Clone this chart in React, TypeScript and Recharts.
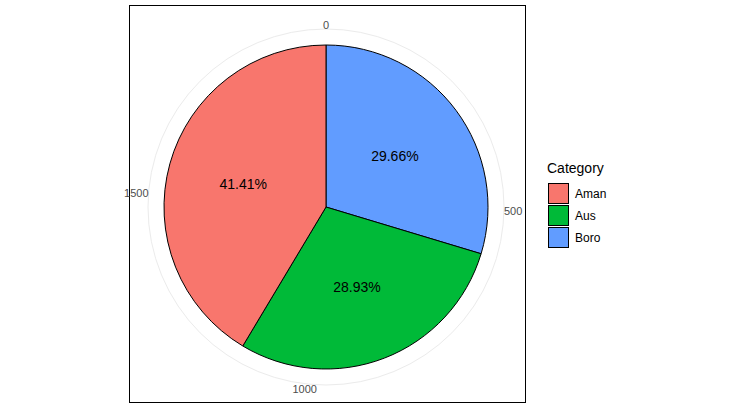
import React from "react";
import { PieChart, Pie, Cell, PolarAngleAxis, PolarGrid, PolarRadiusAxis } from "recharts";

const categories = ["Boro", "Aus", "Aman"];
const values = [583.7, 569.3, 815.0];
const colors = ["#619CFF", "#00BA38", "#F8766D"];
const angleTicks = [0, 500, 1000, 1500];
const legendOrder = ["Aman", "Aus", "Boro"];
const legendColors = ["#F8766D", "#00BA38", "#619CFF"];

const total = values.reduce((a, b) => a + b, 0);
const data = categories.map((c, i) => ({ name: c, value: values[i] }));

const RAD = Math.PI / 180;
const renderLabel = (p: any) => {
  const mid = p.midAngle;
  const r = p.outerRadius * 0.53;
  const x = p.cx + r * Math.cos(-mid * RAD);
  const y = p.cy + r * Math.sin(-mid * RAD);
  return (
    <text x={x} y={y} textAnchor="middle" dominantBaseline="central" fontSize={14} fill="#000">
      {((p.value / total) * 100).toFixed(2)}%
    </text>
  );
};

export default function App() {
  return (
    <div style={{ position: "absolute", left: 0, top: 0, width: 737, height: 419, background: "#fff", fontFamily: "Liberation Sans, Arial, sans-serif" }}>
      <div style={{ position: "absolute", left: 129, top: 5, width: 395, height: 396, border: "1.5px solid #000" }} />
      <PieChart width={737} height={419} margin={{ top: 0, right: 0, bottom: 0, left: 0 }} cx={326} cy={207} startAngle={90} endAngle={-270} outerRadius={170} style={{ position: "absolute", left: 0, top: 0 }}>
        <PolarGrid gridType="circle" radialLines={false} stroke="#ebebeb" polarRadius={[178]} />
        <PolarAngleAxis dataKey="value" type="number" domain={[0, total]} ticks={angleTicks} axisLine={false} tickLine={false} tick={{ fontSize: 11, fill: "#4d4d4d" }} />
        <PolarRadiusAxis type="number" domain={[0, 1]} tick={false} axisLine={false} />
        <Pie data={data} dataKey="value" nameKey="name" cx={326} cy={207} outerRadius={162} startAngle={90} endAngle={-270} stroke="#000" strokeWidth={1} label={renderLabel} labelLine={false} isAnimationActive={false}>
          {data.map((d, i) => <Cell key={d.name} fill={colors[i]} />)}
        </Pie>
      </PieChart>
      <div style={{ position: "absolute", left: 547, top: 160, fontSize: 14, color: "#000" }}>Category</div>
      {legendOrder.map((n, i) => (
        <div key={n} style={{ position: "absolute", left: 548, top: 183 + i * 22, display: "flex", alignItems: "center" }}>
          <div style={{ width: 19, height: 19, background: legendColors[i], border: "1px solid #000" }} />
          <span style={{ marginLeft: 6, fontSize: 12 }}>{n}</span>
        </div>
      ))}
    </div>
  );
}
